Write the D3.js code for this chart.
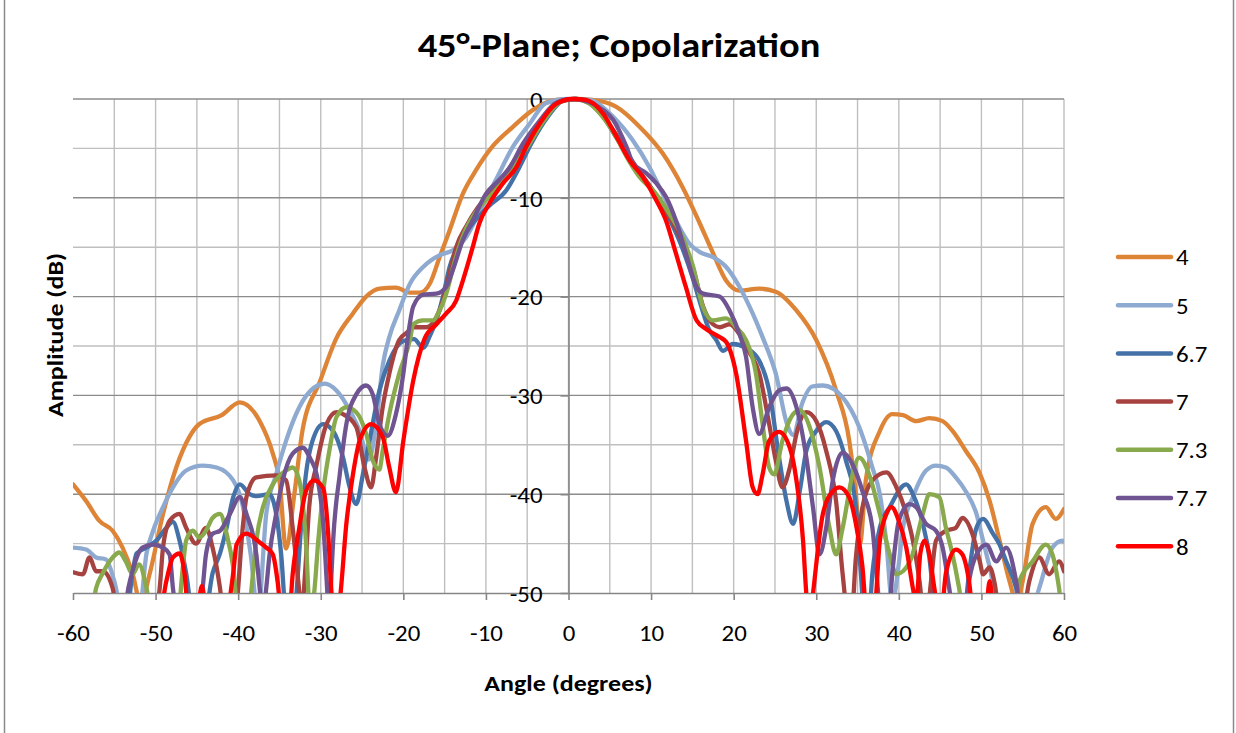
<!DOCTYPE html>
<html>
<head>
<meta charset="utf-8">
<script src="https://cdn.jsdelivr.net/npm/d3@7"></script>
<style>
  body { margin: 0; background: #fff; }
  svg text { font-family: Carlito, Lato, "Open Sans", sans-serif; }
</style>
</head>
<body>
<div id="chart"></div>
<script>
var width = 1236;
var height = 733;
var plotLeft = 73, plotRight = 1064, plotTop = 99, plotBottom = 593;
var fontSize = 22;
var stretch = 1.13; // the original text is a little wider than Carlito

// series names (legend) and colours
var seriesNames = ["4", "5", "6.7", "7", "7.3", "7.7", "8"];
var seriesColors = ["#DE8436", "#8EAAD1", "#4471A8", "#A6423F", "#88A94C", "#6F5491", "#FF0000"];

// tick labels
var xTicks = [-60, -50, -40, -30, -20, -10, 0, 10, 20, 30, 40, 50, 60];
var yTicks = [0, -10, -20, -30, -40, -50];

// [angle (deg), amplitude (dB)]; values below -50 are off the axis
var s4 = [[-60,-39],[-58.4,-40.7],[-56.8,-42.7],[-55.2,-43.7],[-54,-45.4],[-52.8,-48],[-51.8,-51],[-50.7,-48],[-49.1,-42],[-47.5,-37.3],[-45.9,-34.2],[-44.7,-32.9],[-42,-32],[-39.8,-30.7],[-37.4,-32.6],[-35.8,-35.9],[-35,-38.6],[-34.2,-45.5],[-33.2,-40],[-32.2,-33.5],[-30.1,-28.6],[-28.1,-24.2],[-26.1,-21.7],[-24.5,-20],[-22.9,-19.2],[-20.9,-19.1],[-19.2,-19.6],[-18,-19.6],[-16.8,-18.7],[-15.6,-16],[-14.4,-13.3],[-12.8,-9.6],[-11.2,-7.2],[-9.2,-4.8],[-6.7,-2.8],[-4.3,-1.1],[-1.5,-0.1],[1,0],[2.9,-0.1],[5.8,-0.8],[8.6,-2.8],[11.4,-5.5],[13.8,-8.9],[15.9,-12.6],[17.5,-15.6],[19.1,-18.4],[20.7,-19.4],[23.1,-19.2],[25.1,-19.5],[27.6,-21.4],[30,-24.4],[32.4,-29.5],[34,-34.6],[34.8,-40],[35.3,-45],[36,-38.6],[37.7,-33.6],[39.2,-31.9],[40.5,-32],[42.1,-32.6],[43.7,-32.3],[45.3,-32.6],[46.5,-33.6],[48.1,-35.6],[49.8,-37.9],[51,-40.7],[52.2,-44.7],[53.4,-48.8],[54.3,-51],[55,-48.8],[56.2,-43],[57.8,-41.3],[59,-42.5],[60,-41.5]];
var s5 = [[-60,-45.4],[-58.4,-45.6],[-57.2,-46.4],[-56,-46.6],[-55,-48.8],[-54,-52],[-52,-52],[-51.1,-46],[-50.3,-43.7],[-49.1,-41.3],[-47.9,-39.3],[-46.3,-37.6],[-44.3,-37.1],[-42.6,-37.3],[-40.6,-38.6],[-39.5,-41],[-38.5,-46],[-37.6,-52],[-36.6,-42],[-35.4,-38],[-34.2,-34.6],[-32.6,-31.2],[-30.8,-29.2],[-29.5,-28.8],[-28.1,-29.5],[-26.5,-31.5],[-25.3,-33.6],[-24.2,-36.5],[-23.3,-33],[-22.5,-27],[-21.7,-24.1],[-20.5,-21.4],[-19.2,-18.7],[-17.6,-17],[-15.6,-15.8],[-14,-15.3],[-12.4,-14],[-11,-11.8],[-8.8,-8.2],[-6.7,-4.8],[-4.7,-2.5],[-2.7,-0.4],[0,0],[2.5,-0.1],[5.4,-1.8],[7.8,-4.2],[9.8,-6.9],[11.4,-9.6],[13,-12.3],[14.6,-14.6],[15.9,-15.5],[17.5,-16],[19.1,-17],[20.7,-19],[22.3,-21.7],[23.5,-24.1],[25.1,-27.8],[26.5,-33],[27.2,-34],[28.3,-30.8],[29.5,-29.1],[30.8,-29],[33.2,-30.2],[35.2,-33.2],[36.8,-37.3],[37.7,-40],[38.5,-45],[39.2,-51],[40,-47],[40.5,-43.4],[41.7,-40.3],[43.3,-37.6],[44.5,-37.1],[45.7,-37.3],[46.9,-38.3],[48.1,-39.7],[49.4,-42],[50.2,-44.7],[51,-47.4],[52,-51],[56,-52],[57,-49.5],[58.6,-45.4],[59.8,-44.7],[60,-44.8]];
var s67 = [[-60,-52],[-53.5,-52],[-52.8,-48],[-52.3,-46],[-51.1,-45.4],[-49.9,-44.7],[-48.7,-43.4],[-47.9,-42.8],[-47.1,-44.7],[-46.3,-48],[-45.5,-52],[-44,-52],[-43.1,-48],[-42.2,-46],[-41.4,-43.4],[-40.6,-40.3],[-39.8,-39],[-38.6,-40],[-37.8,-40.2],[-36.2,-40],[-35.4,-42],[-34.8,-46],[-34.2,-52],[-33.3,-52],[-32.2,-41.3],[-31.8,-38],[-31,-34.6],[-29.7,-32.9],[-28.5,-33.6],[-27.3,-36.3],[-26.5,-39.3],[-25.7,-41],[-24.9,-38],[-24.1,-34.6],[-22.9,-29.5],[-21.7,-26.5],[-20,-24.5],[-18.7,-24.3],[-17.6,-25.2],[-16.8,-24],[-16,-22.4],[-15.2,-20],[-14.4,-17],[-13.2,-14.6],[-11.6,-12.6],[-9.6,-10.8],[-7.5,-9.2],[-6,-7],[-4.5,-4.5],[-2.5,-1.8],[-0.5,-0.1],[1,0],[2.5,-0.3],[4,-1.5],[5.5,-3.5],[7,-5.5],[8.5,-7.3],[10,-9],[11.8,-11.5],[13.5,-14.5],[15,-18],[16,-20.8],[17,-23.3],[17.9,-24.4],[18.7,-25.5],[19.9,-24.8],[21.5,-25.2],[23.1,-26.5],[24.3,-29.5],[25.5,-36.3],[26.4,-40.7],[27.2,-43],[28,-39.7],[28.8,-35.6],[30,-33.6],[31.2,-32.7],[32.4,-33.6],[33.6,-36.6],[34.8,-41.3],[35.4,-48],[35.8,-52],[36.4,-52],[36.8,-48],[37.7,-43.4],[38.9,-41.3],[40.9,-39],[41.7,-40],[42.9,-43],[43.7,-46.4],[44.1,-49.5],[44.6,-52],[47.9,-52],[48.5,-48],[49.4,-43.4],[50.2,-42.5],[51.4,-44],[52.2,-45.1],[53,-46.8],[54.2,-49.5],[54.8,-52],[60,-52]];
var s7 = [[-60,-47.9],[-58.8,-48.1],[-58,-46.4],[-57.2,-47.8],[-56.4,-47.8],[-55.2,-49.5],[-54.6,-52],[-50,-52],[-49.5,-49.5],[-49.1,-45.4],[-48.3,-42.7],[-47.1,-42],[-46.3,-43.4],[-45.1,-45],[-43.9,-43.4],[-43.1,-45.4],[-42.2,-49.5],[-41.8,-52],[-40.4,-52],[-39.4,-43],[-39,-40.3],[-37.8,-38.3],[-35.4,-38.1],[-34.2,-38.6],[-33.4,-43.4],[-32.7,-49],[-32.3,-52],[-31.9,-48],[-31.4,-41.3],[-30.5,-37],[-29.3,-32.9],[-28.1,-31.7],[-27.3,-31.9],[-25.7,-33.2],[-24.7,-37.3],[-23.9,-39.3],[-23.3,-36.3],[-22.5,-31.2],[-21.7,-27.8],[-20.5,-24.4],[-19.5,-23.6],[-18.8,-23.1],[-17.2,-23.1],[-16,-22.1],[-15.2,-20.4],[-14.4,-17.7],[-13.6,-15],[-12.4,-12.9],[-11,-11],[-9,-9.2],[-7,-6.8],[-5,-4.2],[-3,-1.8],[-1,-0.2],[0.8,0],[2.5,-0.4],[4.2,-1.8],[5.8,-3.6],[7.2,-5.6],[8.8,-7.6],[10.5,-9.6],[12.2,-11.8],[13.8,-14.5],[15.2,-17.5],[16.3,-21],[17.5,-22.8],[18.3,-23.1],[19.5,-22.8],[20.7,-23.8],[21.8,-25.5],[23.1,-27.8],[24.3,-32.9],[25.1,-36.6],[25.9,-39.3],[26.8,-37.3],[27.6,-33.9],[28.8,-31.7],[30,-32.6],[31.2,-35.6],[32.4,-40.7],[33.2,-48.1],[33.8,-52],[34.3,-52],[34.8,-46.4],[35.6,-41.3],[36.8,-38.6],[38.5,-37.8],[39.7,-39.3],[40.9,-42],[41.7,-44.7],[42.5,-48.8],[43,-52],[43.6,-51],[43.9,-48.8],[44.5,-44.7],[45.7,-43.7],[46.9,-43.4],[47.7,-42.4],[48.9,-44],[49.8,-46.8],[50.2,-48.1],[51,-47.4],[51.6,-49],[52.2,-52],[55,-52],[55.8,-48.8],[57,-46.4],[58.2,-48.1],[59.4,-46.8],[60,-47.8]];
var s73 = [[-60,-52],[-57.8,-52],[-57.2,-49.5],[-56.4,-48],[-55.2,-46.4],[-54.4,-45.9],[-53.6,-46.8],[-52.8,-48.1],[-52,-47.1],[-51.1,-49.5],[-50.5,-52],[-47.3,-52],[-46.7,-47.4],[-46.3,-44.7],[-45.5,-43.7],[-44.7,-44.4],[-43.9,-43.7],[-43.1,-42.4],[-42.2,-42],[-41.4,-44],[-40.6,-47.4],[-40,-52],[-38.8,-52],[-38.2,-48],[-37.8,-44.7],[-37,-41.3],[-35.8,-39],[-34.2,-37.6],[-33.4,-37.3],[-32.6,-38.6],[-31.8,-44.7],[-31.3,-52],[-30.8,-50],[-30.3,-44.7],[-29.7,-39.7],[-28.9,-35.3],[-28.1,-32.2],[-26.9,-31.2],[-25.7,-31.7],[-24.5,-33.9],[-23.7,-36.6],[-22.9,-37.5],[-22.5,-35.6],[-21.7,-31.9],[-20.5,-27.8],[-19.2,-24.4],[-18.8,-22.8],[-17.6,-22.4],[-16.4,-22.4],[-15.6,-21.4],[-14.8,-19.7],[-13.8,-16.5],[-12.6,-13.5],[-11,-11.2],[-9,-9.4],[-7,-7.2],[-5.1,-5],[-3,-2.2],[-1,-0.3],[0.8,0],[2.6,-0.5],[4.5,-2.2],[6,-4.2],[7,-5.8],[8.6,-7.9],[10.6,-9.6],[12.2,-11.6],[13.8,-14],[15.1,-17],[16.3,-21.1],[17.5,-22.4],[19.1,-22.2],[20.3,-23.1],[21.5,-24.4],[22.7,-27.8],[23.5,-32.9],[24.3,-37.3],[24.9,-38],[25.9,-34.6],[27.2,-31.9],[28,-31.5],[29.2,-33.2],[30.4,-37.3],[31.6,-43.4],[32.4,-46.1],[33.2,-43.4],[34.4,-38],[35.2,-36.3],[36.4,-38],[37.7,-42],[38.9,-46.1],[39.7,-48.1],[40.5,-47.8],[41.5,-46.5],[42.9,-42],[43.7,-40],[44.9,-40.3],[45.7,-43.4],[46.5,-46.1],[47.3,-49.5],[47.8,-52],[54,-52],[54.6,-48.8],[56.2,-46.8],[57.8,-45.1],[58.6,-46.1],[59.4,-49.5],[59.8,-52],[60,-52]];
var s77 = [[-60,-52],[-53.8,-52],[-53.3,-49.5],[-52.8,-47.8],[-51.6,-45.4],[-50.3,-45.1],[-49.1,-45.4],[-48.3,-46.1],[-47.9,-49.5],[-47.4,-52],[-44.8,-52],[-44.3,-49.5],[-43.9,-46.1],[-43.1,-44],[-42.2,-43.7],[-41,-42],[-39.8,-40.3],[-39,-42],[-37.8,-46.1],[-37.4,-49.5],[-37,-52],[-36.6,-49.5],[-36.2,-46.1],[-35.4,-42],[-34.6,-38.6],[-33.4,-35.9],[-32.2,-35.3],[-31.2,-36.5],[-30.5,-38],[-29.7,-43],[-29.2,-50],[-29,-53],[-28.7,-48],[-28.5,-44.7],[-27.7,-38],[-26.9,-32.9],[-25.7,-29.9],[-24.5,-29],[-23.7,-29.9],[-22.9,-32.9],[-21.9,-34.1],[-20.9,-31.9],[-20,-27.8],[-19.4,-23.8],[-18.8,-21],[-17.6,-19.8],[-16,-19.7],[-14.8,-19],[-14,-17.3],[-12.8,-14.3],[-11.6,-12.3],[-10,-9.6],[-8.4,-8.2],[-7.1,-6.9],[-5.5,-4.5],[-3.5,-2.2],[-1.5,-0.4],[0.8,0],[2.5,-0.3],[4,-1],[5.4,-2.1],[7,-4.8],[7.8,-6.5],[9.4,-7.5],[10.6,-8.5],[11.8,-9.9],[13,-12.3],[14.2,-15.6],[15.5,-19],[16.3,-19.7],[18.3,-20],[19.5,-21.4],[20.7,-23.8],[21.5,-26.1],[22.3,-31.2],[23.1,-33.9],[24.3,-31.2],[25.5,-29.5],[26.4,-29.3],[27.6,-31.2],[28.8,-36.3],[29.6,-41.3],[30.4,-46.1],[31.2,-43.4],[32,-38.6],[33.2,-35.8],[34.4,-37],[35.6,-39.7],[36.8,-43.4],[37.3,-48.1],[37.8,-52],[38.8,-52],[39.2,-48.1],[40,-42.7],[41.3,-41],[42.1,-41.3],[43.3,-43],[44.5,-43.7],[45.3,-45.4],[46.1,-49.5],[46.6,-52],[48,-52],[48.5,-48.8],[49.4,-46.1],[50.6,-45.1],[51.8,-46.8],[53,-45.4],[54.2,-48.8],[54.8,-52],[60,-52]];
var s8 = [[-60,-52],[-49.5,-52],[-48.7,-48.8],[-47.9,-46.4],[-47.1,-46],[-46.5,-48],[-46,-52],[-45,-52],[-44.4,-49.3],[-43.8,-52],[-41.5,-52],[-40.6,-48],[-40.2,-45.1],[-39,-44],[-37.5,-44.8],[-36.6,-45.4],[-35.8,-46.1],[-35.2,-49],[-34.8,-52],[-33.8,-52],[-33.4,-48.1],[-32.6,-43.4],[-31.8,-39.7],[-30.8,-38.6],[-29.7,-39.4],[-29.1,-44],[-28.7,-50],[-28.2,-54],[-27.6,-50],[-26.9,-43],[-26.1,-38],[-25.3,-34.6],[-23.9,-32.9],[-22.5,-34.2],[-21.7,-37.3],[-20.9,-39.8],[-20,-34.6],[-18.8,-28.5],[-17.4,-24.2],[-16,-22.8],[-14.8,-21.7],[-13.6,-20.4],[-12.8,-18.4],[-11.6,-15],[-10.8,-12.6],[-9.6,-10.6],[-8,-8.6],[-6.3,-6.9],[-5.1,-4.8],[-3.5,-2.5],[-1.5,-0.5],[0.5,0],[2.1,-0.1],[4.2,-1.5],[5.8,-3.8],[7.4,-6.2],[9,-7.9],[10.6,-10.2],[11.8,-12.3],[13,-15.6],[14.2,-19],[15.5,-22.4],[16.7,-23.3],[18.3,-24.1],[19.1,-24.6],[20.3,-27.8],[21.5,-34.6],[22.3,-39.3],[22.9,-40],[23.5,-38],[24.3,-34.6],[25.5,-33.7],[26.8,-35.3],[27.6,-38.6],[28.4,-44.7],[28.8,-50.1],[29.2,-53],[29.6,-50.1],[30.8,-42],[32,-39.7],[32.8,-39.3],[34,-40.3],[34.8,-43],[35.6,-47.4],[36.1,-52],[37,-52],[37.7,-44.7],[38.5,-42],[39.1,-41.3],[40,-42.7],[40.9,-45.4],[41.7,-49.5],[42.1,-51],[42.6,-46],[43.1,-44.7],[43.7,-46.1],[44.3,-49.5],[44.8,-52],[45.3,-51],[45.7,-48],[46.9,-45.6],[47.7,-46.1],[48.5,-48.8],[49,-52],[50.5,-52],[51,-48.8],[51.5,-52],[60,-52]];

var seriesData = [s4, s5, s67, s7, s73, s77, s8];

var svg = d3.select("#chart")
  .append("svg")
  .attr("width", width)
  .attr("height", height);

svg.append("rect")
  .attr("width", width)
  .attr("height", height)
  .attr("fill", "#fff");

// chart border (left / right edges)
svg.append("rect")
  .attr("x", 4.5)
  .attr("y", -5)
  .attr("width", 1229)
  .attr("height", height + 10)
  .attr("fill", "none")
  .attr("stroke", "#8a8a8a")
  .attr("stroke-width", 1.5);

var x = d3.scaleLinear().domain([-60, 60]).range([plotLeft, plotRight]);
var y = d3.scaleLinear().domain([-50, 0]).range([plotBottom, plotTop]);

// grid
var grid = svg.append("g");
d3.range(-55, 61, 5).forEach(function (a) {
  grid.append("line")
    .attr("x1", x(a)).attr("x2", x(a))
    .attr("y1", y(0)).attr("y2", y(-50))
    .attr("stroke", "#bfbfbf")
    .attr("stroke-width", 1.4);
});
d3.range(-45, 1, 5).forEach(function (d) {
  grid.append("line")
    .attr("x1", x(-60)).attr("x2", x(60))
    .attr("y1", y(d)).attr("y2", y(d))
    .attr("stroke", d % 10 == 0 ? "#8c8c8c" : "#bfbfbf")
    .attr("stroke-width", 1.4);
});

// axes (plain hyphen for minus, as in the original)
var fmt = function (d) { return String(d); };
var xAxis = svg.append("g")
  .attr("transform", "translate(0," + y(-50) + ")")
  .call(d3.axisBottom(x).tickValues(xTicks).tickFormat(fmt).tickSizeInner(7).tickSizeOuter(0).tickPadding(25));
var yAxis = svg.append("g")
  .attr("transform", "translate(" + x(0) + ",0)")
  .call(d3.axisLeft(y).tickValues(yTicks).tickFormat(fmt).tickSizeInner(8).tickSizeOuter(0).tickPadding(18));

[xAxis, yAxis].forEach(function (g) {
  g.select(".domain").attr("stroke", "#868686").attr("stroke-width", 1.6);
  g.selectAll(".tick line").attr("stroke", "#868686").attr("stroke-width", 1.6);
  g.selectAll(".tick text")
    .attr("fill", "#000")
    .attr("font-size", fontSize + "px")
    .attr("font-family", "Carlito, Lato, sans-serif")
    .attr("x", function () { return (+d3.select(this).attr("x") || 0) / stretch; })
    .attr("transform", "scale(" + stretch + ",1)");
});
yAxis.selectAll(".tick text").attr("dy", "0.38em");

// series lines
svg.append("clipPath")
  .attr("id", "plotClip")
  .append("rect")
  .attr("x", plotLeft)
  .attr("y", plotTop - 4)
  .attr("width", plotRight - plotLeft)
  .attr("height", plotBottom - plotTop + 4);

var line = d3.line()
  .x(function (d) { return x(d[0]); })
  .y(function (d) { return y(d[1]); })
  .curve(d3.curveMonotoneX);

var lines = svg.append("g").attr("clip-path", "url(#plotClip)");
seriesData.forEach(function (s, i) {
  lines.append("path")
    .attr("d", line(s))
    .attr("fill", "none")
    .attr("stroke", seriesColors[i])
    .attr("stroke-width", 4.3)
    .attr("stroke-linejoin", "round")
    .attr("stroke-linecap", "round");
});

// titles
svg.append("text")
  .attr("transform", "translate(619,57) scale(" + stretch + ",1)")
  .attr("text-anchor", "middle")
  .attr("font-size", "34px")
  .attr("font-weight", "bold")
  .text("45°-Plane; Copolarization");

svg.append("text")
  .attr("transform", "translate(" + x(0) + ",691) scale(" + stretch + ",1)")
  .attr("text-anchor", "middle")
  .attr("font-size", "23px")
  .attr("font-weight", "bold")
  .text("Angle (degrees)");

svg.append("text")
  .attr("transform", "translate(62.5,335) rotate(-90) scale(" + stretch + ",1)")
  .attr("text-anchor", "middle")
  .attr("font-size", "23px")
  .attr("font-weight", "bold")
  .text("Amplitude (dB)");

// legend
var legend = svg.append("g");
seriesNames.forEach(function (name, i) {
  var ly = 257 + i * 48.2;
  legend.append("line")
    .attr("x1", 1118).attr("x2", 1171)
    .attr("y1", ly).attr("y2", ly)
    .attr("stroke", seriesColors[i])
    .attr("stroke-width", 4.5)
    .attr("stroke-linecap", "round");
  legend.append("text")
    .attr("transform", "translate(1176," + (ly + 8.3) + ") scale(" + stretch + ",1)")
    .attr("font-size", fontSize + "px")
    .text(name);
});
</script>
</body>
</html>
